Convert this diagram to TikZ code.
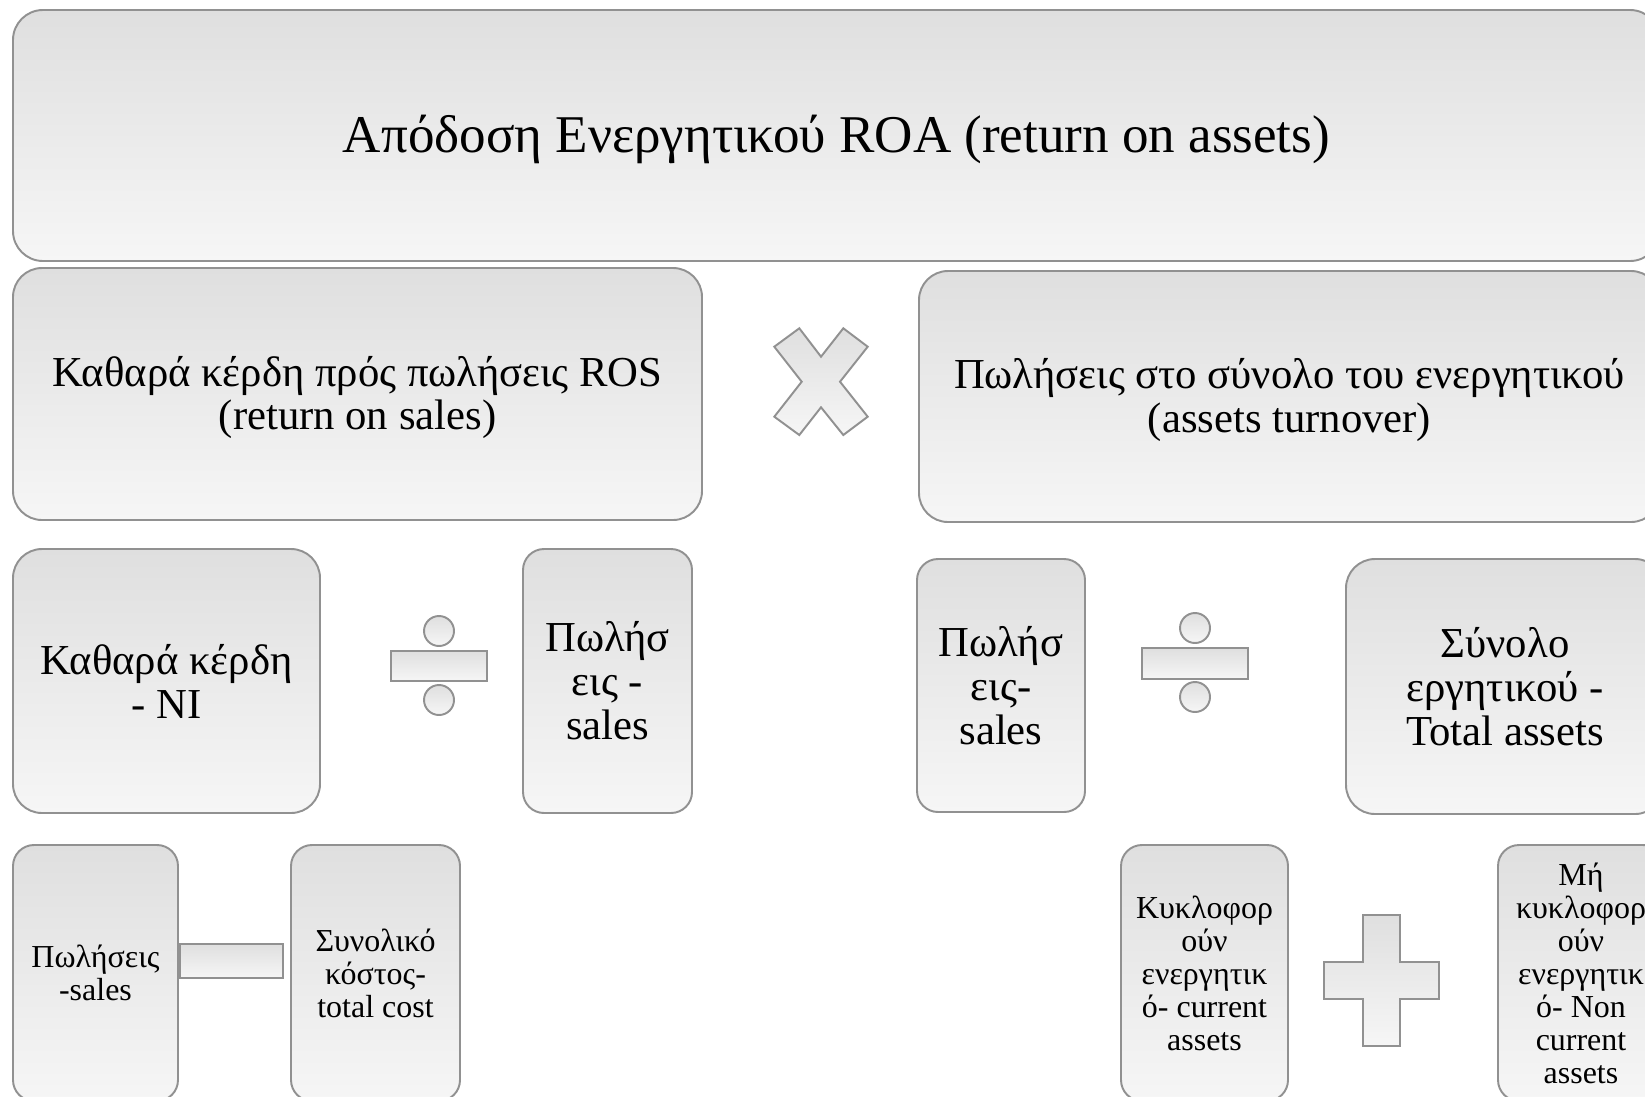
\documentclass[tikz,border=0pt]{standalone}
\usepackage{fontspec}
\setmainfont{Liberation Serif}
\usetikzlibrary{fit}
\definecolor{edgegray}{RGB}{145,145,145}
\definecolor{shadetop}{RGB}{223,223,223}
\definecolor{shadebot}{RGB}{246,246,246}
\tikzset{
  panel/.style={draw=edgegray, line width=1.1pt, top color=shadetop,
    bottom color=shadebot, rounded corners=#1, inner sep=0pt},
  panel/.default=0.58cm,
  oper/.style={draw=edgegray, line width=1.1pt, top color=shadetop,
    bottom color=shadebot},
  bigtxt/.style={align=center, inner sep=0pt, font=\fontsize{30.2}{34}\selectfont},
  midtxt/.style={align=center, inner sep=0pt, font=\fontsize{24.3}{25}\selectfont},
  smalltxt/.style={align=center, inner sep=0pt, font=\fontsize{18.2}{18.8}\selectfont},
}
\begin{document}
\begin{tikzpicture}[x=0.02cm, y=-0.02cm]
\useasboundingbox (0,0) rectangle (1645,1096);
\clip (0,0) rectangle (1645,1096);
\fill[white] (0,0) rectangle (1645,1096);

% top level: return on assets
\node[panel=0.6cm, fit={(13,10) (1660,261)}] (roa) {};
\node[bigtxt] (roatxt) at ([yshift=-0.08cm]roa.center) {Απόδοση Ενεργητικού ROA (return on assets)};

% second level: the two factors
\node[panel, fit={(13,268) (702,520)}] (ros) {};
\node[midtxt] (rostxt) at ([yshift=-0.07cm]ros.center) {Καθαρά κέρδη πρός πωλήσεις ROS\\(return on sales)};
\node[panel, fit={(919,271) (1660,522)}] (ato) {};
\node[midtxt] (atotxt) at ([yshift=-0.07cm]ato.center) {Πωλήσεις στο σύνολο του ενεργητικού\\(assets turnover)};

% multiplication sign
\draw[oper] (774.3,346.7) -- (799.3,328.3) -- (821,356.7) -- (843.3,328.3)
  -- (867.7,346.7) -- (840,381.7) -- (867.7,416.7) -- (843.3,435)
  -- (821,407.3) -- (799.3,435) -- (774.3,416.7) -- (801.7,381.7) -- cycle;

% third level: NI / sales
\node[panel, fit={(13,549) (320,813)}] (ni) {};
\node[midtxt] (nitxt) at (ni.center) {Καθαρά κέρδη\\- NI};
\node[panel=0.42cm, fit={(523,549) (692,813)}] (salesa) {};
\node[midtxt] (salesatxt) at (salesa.center) {Πωλήσ\\εις -\\sales};

\draw[oper] (439,631) circle [radius=15];
\draw[oper] (391,651) rectangle (487,681);
\draw[oper] (439,700) circle [radius=15];

% third level: sales / total assets
\node[panel=0.42cm, fit={(917,559) (1085,812)}] (salesb) {};
\node[midtxt] (salesbtxt) at (salesb.center) {Πωλήσ\\εις-\\sales};
\node[panel, fit={(1346,559) (1664,814)}] (ta) {};
\node[midtxt] (tatxt) at (ta.center) {Σύνολο\\εργητικού -\\Total assets};

\draw[oper] (1195,628) circle [radius=15];
\draw[oper] (1142,648) rectangle (1248,679);
\draw[oper] (1195,697) circle [radius=15];

% fourth level: sales - total cost
\node[panel=0.42cm, fit={(13,845) (178,1101)}] (salesc) {};
\node[smalltxt] (salesctxt) at (salesc.center) {Πωλήσεις\\-sales};
\draw[oper] (180,944) rectangle (283,978);
\node[panel=0.42cm, fit={(291,845) (460,1101)}] (tc) {};
\node[smalltxt] (tctxt) at (tc.center) {Συνολικό\\κόστος-\\total cost};

% fourth level: current + non current assets
\node[panel=0.42cm, fit={(1121,845) (1288,1101)}] (ca) {};
\node[smalltxt] (catxt) at (ca.center) {Κυκλοφορ\\ούν\\ενεργητικ\\ό- current\\assets};
\draw[oper] (1363,915) -- (1400,915) -- (1400,962) -- (1439,962) -- (1439,999)
  -- (1400,999) -- (1400,1046) -- (1363,1046) -- (1363,999) -- (1324,999)
  -- (1324,962) -- (1363,962) -- cycle;
\node[panel=0.42cm, fit={(1498,845) (1664,1101)}] (nca) {};
\node[smalltxt] (ncatxt) at (nca.center) {Μή\\κυκλοφορ\\ούν\\ενεργητικ\\ό- Non\\current\\assets};
\end{tikzpicture}
\end{document}
